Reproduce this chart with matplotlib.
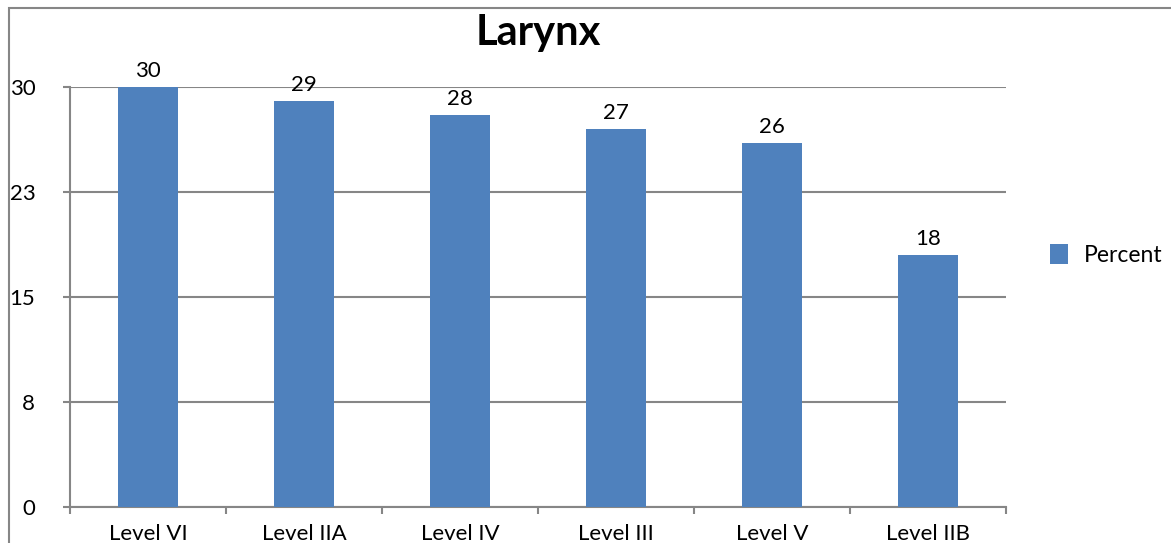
import matplotlib.pyplot as plt
from matplotlib.patches import Rectangle, Patch

# -----------------------------
# Data
# -----------------------------
categories = ["Level VI", "Level IIA", "Level IV", "Level III", "Level V", "Level IIB"]
percent = [30, 29, 28, 27, 26, 18]
y_ticks = [0, 7.5, 15, 22.5, 30]
y_tick_labels = ["0", "8", "15", "23", "30"]

BAR_COLOR = "#4F81BD"
GRID_COLOR = "#868686"

plt.rcParams["font.family"] = ["Lato", "DejaVu Sans"]

fig = plt.figure(figsize=(11.71, 5.43), dpi=100)
ax = fig.add_axes([70 / 1171, 1 - 507 / 543, (1006 - 70) / 1171, (507 - 87) / 543])

x = range(len(categories))
bars = ax.bar(x, percent, width=0.39, color=BAR_COLOR, zorder=3, label="Percent")

# value labels above bars
for b, v in zip(bars, percent):
    ax.annotate(str(v), (b.get_x() + b.get_width() / 2, b.get_height()),
                xytext=(0, 4), textcoords="offset points",
                ha="center", va="bottom", fontsize=16, color="black")

ax.set_xlim(-0.5, len(categories) - 0.5)
ax.set_ylim(0, 30)
ax.set_yticks(y_ticks)
ax.set_yticklabels(y_tick_labels)
ax.yaxis.grid(True, color=GRID_COLOR, lw=1.5, zorder=0)
ax.tick_params(axis="y", length=5, width=1.5, color=GRID_COLOR, pad=20,
               labelsize=16)

# x ticks at category boundaries, labels at centres
ax.set_xticks([i - 0.5 for i in range(len(categories) + 1)])
ax.set_xticklabels([])
ax.set_xticks(list(x), minor=True)
ax.set_xticklabels(categories, minor=True)
ax.tick_params(axis="x", which="major", length=5, width=1.5, color=GRID_COLOR)
ax.tick_params(axis="x", which="minor", length=0, pad=12, labelsize=16)

for side in ["top", "right"]:
    ax.spines[side].set_visible(False)
for side in ["left", "bottom"]:
    ax.spines[side].set_color(GRID_COLOR)
    ax.spines[side].set_linewidth(1.5)

fig.text(538 / 1171, 1 - 33 / 543, "Larynx", ha="center", va="center",
         fontsize=30, fontweight="bold")

handles = [Patch(facecolor=BAR_COLOR, label="Percent")]
fig.legend(handles=handles, loc="center left", bbox_to_anchor=(1029 / 1171, 1 - 255 / 543),
           frameon=False, fontsize=16.5, handlelength=0.8, handleheight=1.0,
           handletextpad=0.7)

# outer chart frame (right and bottom edges fall outside the image)
fig.patches.append(Rectangle((9 / 1171, -0.1), 1.2, 1.1 - 8 / 543,
                             transform=fig.transFigure, fill=False,
                             edgecolor=GRID_COLOR, lw=1.5, clip_on=False))

fig.savefig("out.png", dpi=100)
